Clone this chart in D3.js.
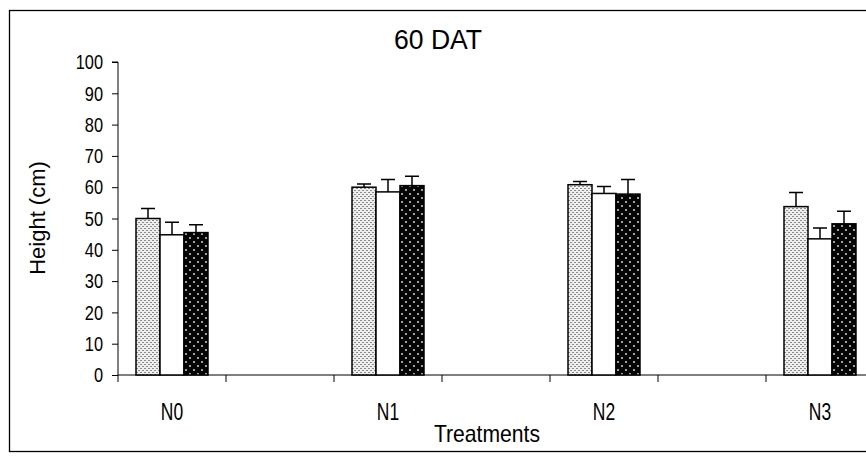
<!DOCTYPE html>
<html lang="en">
<head>
<meta charset="UTF-8">
<title>60 DAT</title>
<script src="https://d3js.org/d3.v7.min.js"></script>
<style>
  body { margin: 0; background: #fff; }
  svg { font-family: "Liberation Sans", Arial, sans-serif; display: block; }
</style>
</head>
<body>
<svg id="chart" width="866" height="456"></svg>
<script>
const categories = ["N0", "N1", "N2", "N3"];
const series = ["s1", "s2", "s3"];
const means = [
  [50.0, 60.0, 60.8, 53.8],
  [44.8, 58.5, 58.0, 43.5],
  [45.5, 60.5, 57.8, 48.3]
];
const errs = [
  [3.2, 1.0, 1.0, 4.5],
  [4.0, 4.0, 2.2, 3.5],
  [2.5, 3.0, 4.7, 4.0]
];
const yTicks = [0, 10, 20, 30, 40, 50, 60, 70, 80, 90, 100];

const svg = d3.select("#chart");
const defs = svg.append("defs");

// light stipple
const p1 = defs.append("pattern").attr("id", "pLight").attr("patternUnits", "userSpaceOnUse")
  .attr("width", 4).attr("height", 4);
p1.append("rect").attr("width", 4).attr("height", 4).attr("fill", "#eeeeee");
p1.append("rect").attr("x", 0).attr("y", 0).attr("width", 2).attr("height", 1).attr("fill", "#8c8c8c");
p1.append("rect").attr("x", 2).attr("y", 2).attr("width", 2).attr("height", 1).attr("fill", "#8c8c8c");

// dark dotted
const p3 = defs.append("pattern").attr("id", "pDark").attr("patternUnits", "userSpaceOnUse")
  .attr("width", 8).attr("height", 8);
p3.append("rect").attr("width", 8).attr("height", 8).attr("fill", "#050505");
p3.append("rect").attr("x", 1).attr("y", 1).attr("width", 2).attr("height", 2).attr("fill", "#a0a0a0");
p3.append("rect").attr("x", 5).attr("y", 5).attr("width", 2).attr("height", 2).attr("fill", "#a0a0a0");

const fills = ["url(#pLight)", "#ffffff", "url(#pDark)"];

// outer frame
svg.append("rect").attr("x", 9.5).attr("y", 10.5).attr("width", 900).attr("height", 441)
  .attr("fill", "none").attr("stroke", "#000").attr("stroke-width", 1.3);

const plotLeft = 118, plotTop = 62, plotBottom = 375;
const slots = d3.range(8);
const x = d3.scaleBand().domain(slots).range([plotLeft, plotLeft + 8 * 108]);
const xs = d3.scaleBand().domain(series).range([18, 90]);
const y = d3.scaleLinear().domain([0, 100]).range([plotBottom, plotTop]);

// y axis
const sxTick = 0.78;
const yAxis = d3.axisLeft(y).tickValues(yTicks).tickSize(6).tickFormat(d3.format("d"));
const gy = svg.append("g").attr("transform", `translate(${plotLeft},0)`).call(yAxis);
gy.select(".domain").attr("stroke", "#000").attr("d", `M-6,${plotTop}H0V${plotBottom}`);
gy.selectAll(".tick text").attr("font-size", 21).attr("fill", "#000")
  .attr("x", -15 / sxTick).attr("transform", `scale(${sxTick},1)`);

// x axis
const gx = svg.append("g").attr("transform", `translate(0,${plotBottom})`);
gx.append("line").attr("x1", plotLeft).attr("x2", 866).attr("stroke", "#000");
gx.selectAll("line.t").data(slots).join("line").attr("class", "t")
  .attr("x1", d => x(d)).attr("x2", d => x(d)).attr("y1", 0).attr("y2", 7).attr("stroke", "#000");
gx.selectAll("text").data(categories).join("text")
  .attr("transform", (d, i) => `translate(${x(2 * i) + x.bandwidth() / 2},45) scale(0.76,1)`)
  .attr("text-anchor", "middle").attr("font-size", 23).text(d => d);

// bars
series.forEach((s, si) => {
  const g = svg.append("g");
  g.selectAll("rect").data(categories).join("rect")
    .attr("x", (d, i) => x(2 * i) + xs(s))
    .attr("y", (d, i) => y(means[si][i]))
    .attr("width", xs.bandwidth())
    .attr("height", (d, i) => y(0) - y(means[si][i]))
    .attr("fill", fills[si]).attr("stroke", "#000").attr("stroke-width", 1.5);
  // error bars (upper only)
  g.selectAll("path.err").data(categories).join("path").attr("class", "err")
    .attr("d", (d, i) => {
      const cx = x(2 * i) + xs(s) + xs.bandwidth() / 2;
      const y0 = y(means[si][i]), y1 = y(means[si][i] + errs[si][i]);
      return `M${cx},${y0}V${y1}M${cx - 7},${y1}H${cx + 7}`;
    })
    .attr("stroke", "#000").attr("stroke-width", 1.5).attr("fill", "none");
});

// titles
svg.append("text").attr("transform", "translate(438,49) scale(0.95,1)").attr("text-anchor", "middle")
  .attr("font-size", 28).text("60 DAT");
svg.append("text").attr("transform", "translate(45,218) rotate(-90)").attr("text-anchor", "middle")
  .attr("font-size", 22).text("Height (cm)");
svg.append("text").attr("transform", "translate(487,442) scale(0.92,1)").attr("text-anchor", "middle")
  .attr("font-size", 23).text("Treatments");
</script>
</body>
</html>
